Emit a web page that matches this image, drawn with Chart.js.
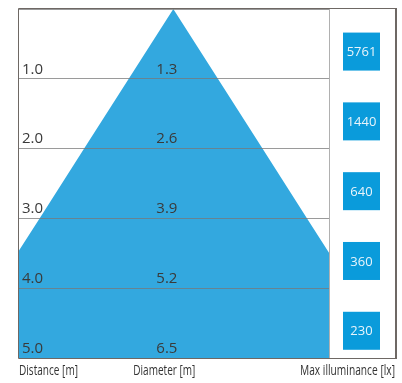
<!DOCTYPE html>
<html>
<head>
<meta charset="utf-8">
<script src="https://cdn.jsdelivr.net/npm/chart.js@4"></script>
<style>
  body { margin: 0; background: #fff; }
</style>
</head>
<body>
<canvas id="myChart" width="402" height="383"></canvas>
<script>
const distances = [1, 2, 3, 4, 5];
const diameters = [1.3, 2.6, 3.9, 5.2, 6.5];
const illuminance = [5761, 1440, 640, 360, 230];
const distanceLabels = ["1.0", "2.0", "3.0", "4.0", "5.0"];
const diameterLabels = ["1.3", "2.6", "3.9", "5.2", "6.5"];

// cone outline: left edge bottom -> apex -> right edge bottom
const cone = [];
for (let i = distances.length - 1; i >= 0; i--) {
  cone.push({ x: -diameters[i] / 2, y: distances[i] });
}
cone.push({ x: 0, y: 0 });
for (let i = 0; i < distances.length; i++) {
  cone.push({ x: diameters[i] / 2, y: distances[i] });
}

const labelFont = "15px 'Open Sans', sans-serif";
const titleFont = "15px 'Open Sans', sans-serif";

const framePlugin = {
  id: "frame",
  afterDraw(chart) {
    const c = chart.ctx;
    const area = chart.chartArea;
    const y = chart.scales.y;
    const x = chart.scales.x;
    const colRight = 396;

    c.save();
    // texts inside the chart
    c.fillStyle = "#3a3a3a";
    c.font = labelFont;
    c.textBaseline = "bottom";
    c.textAlign = "left";
    for (let i = 0; i < distances.length; i++) {
      const py = y.getPixelForValue(distances[i]) - 2;
      c.fillText(distanceLabels[i], area.left + 3, py);
      c.fillText(diameterLabels[i], x.getPixelForValue(0) - 17, py);
    }

    // illuminance boxes
    c.font = "13px 'Open Sans', sans-serif";
    c.textAlign = "center";
    c.textBaseline = "middle";
    const cx = (area.right + colRight) / 2 - 1;
    for (let i = 0; i < illuminance.length; i++) {
      const cy = y.getPixelForValue(distances[i] - 0.39);
      c.fillStyle = "#0a9bdb";
      c.fillRect(cx - 18.5, cy - 19, 37, 38);
      c.fillStyle = "#e8f4fb";
      c.fillText(String(illuminance[i]), cx, cy + 1);
    }

    // frame lines
    c.lineWidth = 1;
    c.strokeStyle = "#b0b0b0";
    c.beginPath();
    c.moveTo(area.right + 0.5, area.top);
    c.lineTo(area.right + 0.5, area.bottom);
    c.stroke();

    c.strokeStyle = "#6e6864";
    c.beginPath();
    c.moveTo(area.left - 0.5, area.top - 0.5);
    c.lineTo(colRight, area.top - 0.5);
    c.moveTo(area.left - 0.5, area.top - 0.5);
    c.lineTo(area.left - 0.5, area.bottom + 0.5);
    c.lineTo(colRight, area.bottom + 0.5);
    c.stroke();
    c.lineWidth = 2;
    c.beginPath();
    c.moveTo(colRight, area.top - 1);
    c.lineTo(colRight, area.bottom + 1);
    c.stroke();

    // bottom titles (condensed via maxWidth)
    c.fillStyle = "#333";
    c.font = titleFont;
    c.textBaseline = "middle";
    c.textAlign = "left";
    c.fillText("Distance [m]", area.left, 371, 59);
    c.textAlign = "center";
    c.fillText("Diameter [m]", x.getPixelForValue(0) - 9, 371, 62);
    c.textAlign = "right";
    c.fillText("Max illuminance [lx]", colRight - 1, 371, 95);
    c.restore();
  },
};

const ctx = document.getElementById("myChart");
new Chart(ctx, {
  type: "scatter",
  data: {
    datasets: [
      {
        label: "cone",
        data: cone,
        showLine: true,
        pointRadius: 0,
        borderWidth: 0,
        borderColor: "#33a8df",
        backgroundColor: "#33a8df",
        fill: { value: distances[distances.length - 1] },
      },
    ],
  },
  options: {
    responsive: false,
    animation: false,
    layout: { padding: { left: 19, top: 9, right: 73, bottom: 25 } },
    plugins: { legend: { display: false }, tooltip: { enabled: false } },
    scales: {
      x: { type: "linear", min: -2.25, max: 2.27, display: false },
      y: {
        type: "linear",
        reverse: true,
        min: 0,
        max: 5,
        ticks: { display: false, stepSize: 1 },
        border: { display: false },
        grid: { color: "rgba(120,120,120,0.75)", lineWidth: 1, drawTicks: false, z: 1 },
      },
    },
  },
  plugins: [framePlugin],
});
</script>
</body>
</html>
